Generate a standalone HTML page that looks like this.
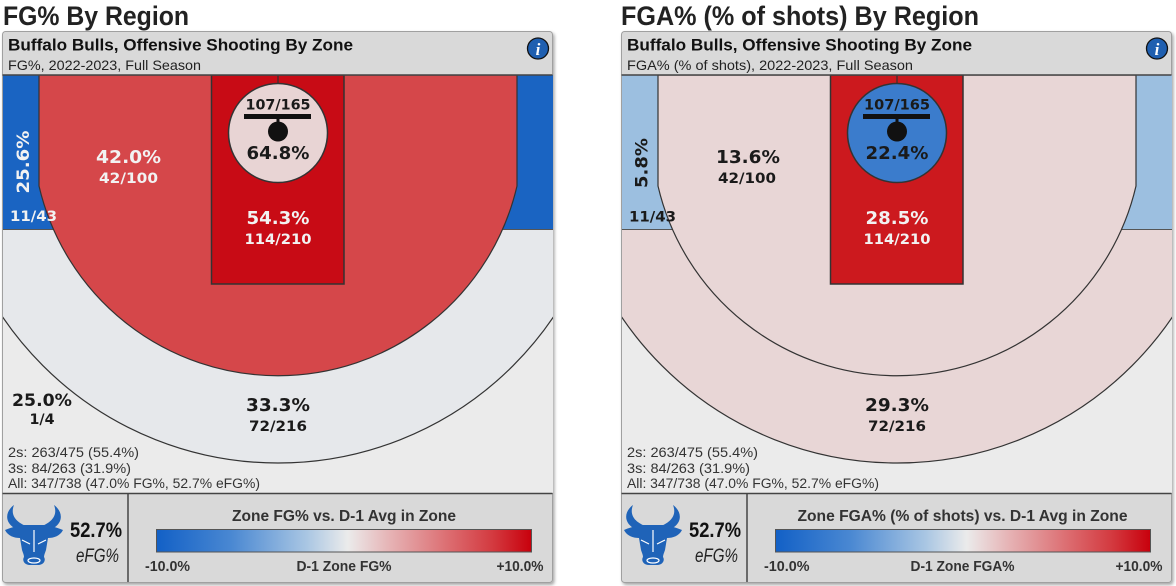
<!DOCTYPE html>
<html><head><meta charset="utf-8"><style>
html,body{margin:0;padding:0;background:#fff;}
svg{display:block;}
.ct{font-family:"DejaVu Sans",sans-serif;font-weight:bold;}
.rb{font-family:"Liberation Sans",sans-serif;}
</style></head><body>
<svg width="1176" height="586" viewBox="0 0 1176 586" xmlns="http://www.w3.org/2000/svg">
<defs>
<linearGradient id="gr" x1="0" x2="1" y1="0" y2="0">
<stop offset="0" stop-color="#1260c6"/>
<stop offset="0.2" stop-color="#4a88d2"/>
<stop offset="0.4" stop-color="#a9c6e3"/>
<stop offset="0.51" stop-color="#ebebeb"/>
<stop offset="0.62" stop-color="#e6b4b6"/>
<stop offset="0.78" stop-color="#dc6c70"/>
<stop offset="0.9" stop-color="#d3383e"/>
<stop offset="1" stop-color="#c8000c"/>
</linearGradient>
<clipPath id="court"><rect x="3" y="75" width="550" height="418"/></clipPath>
<filter id="sh" x="-5%" y="-5%" width="110%" height="110%"><feDropShadow dx="1.5" dy="2" stdDeviation="1.5" flood-color="#000" flood-opacity="0.35"/></filter>
<g id="bull">
<path d="M14 505 C3 513,5 527,22 531 L26 526 C16 522,10 515,14 505 Z" fill="#1f63b8"/>
<path d="M54 505 C65 513,63 527,46 531 L42 526 C52 522,58 515,54 505 Z" fill="#1f63b8"/>
<path d="M22 525 L46 525 C50 526,56 527,63 530 C60 536,54 538,48 538 L46 550 C45 553,44 555,44 557 C46 560,44 565,38 565 L30 565 C24 565,22 560,24 557 C24 555,23 553,22 550 L20 538 C14 538,8 536,5 530 C12 527,18 526,22 525 Z" fill="#1f63b8"/>
<path d="M22 540 L30 544 M46 540 L38 544 M34 530 L34 552" stroke="#fff" stroke-width="1.2" fill="none"/>
<ellipse cx="34" cy="560.5" rx="6" ry="2.5" fill="none" stroke="#fff" stroke-width="1.2"/>
</g>
</defs>

<!-- ================= LEFT PANEL ================= -->
<text x="3" y="25" class="rb" font-weight="bold" font-size="27" fill="#222" textLength="186" lengthAdjust="spacingAndGlyphs">FG% By Region</text>
<g>
<rect x="2.5" y="31.5" width="550" height="551" rx="3" fill="#d9d9d9" stroke="#a0a0a0" filter="url(#sh)"/>
<text x="8" y="50.5" class="rb" font-weight="bold" font-size="17" fill="#111" textLength="345" lengthAdjust="spacingAndGlyphs">Buffalo Bulls, Offensive Shooting By Zone</text>
<text x="8" y="70" class="rb" font-size="14" fill="#222" textLength="193" lengthAdjust="spacingAndGlyphs">FG%, 2022-2023, Full Season</text>
<circle cx="538" cy="48.5" r="10.5" fill="#1f5fb0" stroke="#111" stroke-width="1.3"/>
<text x="538" y="55" text-anchor="middle" font-family="Liberation Serif,serif" font-style="italic" font-weight="bold" font-size="17" fill="#fff">i</text>

<g clip-path="url(#court)">
<rect x="3" y="75" width="550" height="418" fill="#ebebeb"/>
<circle cx="278" cy="130.4" r="332.6" fill="#e6e8eb" stroke="#333" stroke-width="1.2"/>
<rect x="3" y="75" width="70" height="154" fill="#1a64c2"/>
<rect x="483" y="75" width="70" height="154" fill="#1a64c2"/>
<line x1="3" y1="229.5" x2="70" y2="229.5" stroke="#555" stroke-width="1"/>
<line x1="486" y1="229.5" x2="553" y2="229.5" stroke="#555" stroke-width="1"/>
<path d="M39 75 L39 186 A245.4 245.4 0 0 0 517 186 L517 75 Z" fill="#d5474a" stroke="#333" stroke-width="1.2"/>
<rect x="211.5" y="75" width="132.5" height="209" fill="#c80b15" stroke="#333" stroke-width="1.5"/>
<line x1="278" y1="75" x2="278" y2="84" stroke="#333" stroke-width="1.2"/>
<circle cx="278" cy="133" r="49.5" fill="#e8d4d4" stroke="#333" stroke-width="1.5"/>
<rect x="244" y="114" width="67" height="5" fill="#111"/>
<rect x="276.5" y="118" width="3" height="8" fill="#111"/>
<circle cx="278" cy="131.5" r="10" fill="#111"/>
</g>
<line x1="2.5" y1="75" x2="552.5" y2="75" stroke="#444" stroke-width="1.5"/>
<line x1="2.5" y1="493.5" x2="552.5" y2="493.5" stroke="#444" stroke-width="1.5"/>

<text class="ct" transform="translate(29,162) rotate(-90)" text-anchor="middle" font-size="17" fill="#f2f2f2" textLength="63" lengthAdjust="spacingAndGlyphs">25.6%</text>
<text class="ct" x="10" y="221" font-size="14" fill="#f2f2f2" textLength="47" lengthAdjust="spacingAndGlyphs">11/43</text>
<text class="ct" x="128.5" y="163" text-anchor="middle" font-size="18" fill="#f2f2f2" textLength="65" lengthAdjust="spacingAndGlyphs">42.0%</text>
<text class="ct" x="128.5" y="183" text-anchor="middle" font-size="14" fill="#f2f2f2" textLength="59" lengthAdjust="spacingAndGlyphs">42/100</text>
<text class="ct" x="278" y="109.3" text-anchor="middle" font-size="14" fill="#1a1a1a" textLength="65" lengthAdjust="spacingAndGlyphs">107/165</text>
<text class="ct" x="278" y="159" text-anchor="middle" font-size="18" fill="#1a1a1a" textLength="63" lengthAdjust="spacingAndGlyphs">64.8%</text>
<text class="ct" x="278" y="224" text-anchor="middle" font-size="18" fill="#f2f2f2" textLength="63" lengthAdjust="spacingAndGlyphs">54.3%</text>
<text class="ct" x="278" y="244" text-anchor="middle" font-size="14" fill="#f2f2f2" textLength="67" lengthAdjust="spacingAndGlyphs">114/210</text>
<text class="ct" x="42" y="406" text-anchor="middle" font-size="17" fill="#1a1a1a" textLength="60" lengthAdjust="spacingAndGlyphs">25.0%</text>
<text class="ct" x="42" y="424" text-anchor="middle" font-size="14" fill="#1a1a1a" textLength="25" lengthAdjust="spacingAndGlyphs">1/4</text>
<text class="ct" x="278" y="411" text-anchor="middle" font-size="18" fill="#1a1a1a" textLength="64" lengthAdjust="spacingAndGlyphs">33.3%</text>
<text class="ct" x="278" y="431" text-anchor="middle" font-size="14" fill="#1a1a1a" textLength="58" lengthAdjust="spacingAndGlyphs">72/216</text>
<text class="rb" x="8" y="457" font-size="13.5" fill="#333" textLength="131" lengthAdjust="spacingAndGlyphs">2s: 263/475 (55.4%)</text>
<text class="rb" x="8" y="473" font-size="13.5" fill="#333" textLength="123" lengthAdjust="spacingAndGlyphs">3s: 84/263 (31.9%)</text>
<text class="rb" x="8" y="488" font-size="13.5" fill="#333" textLength="252" lengthAdjust="spacingAndGlyphs">All: 347/738 (47.0% FG%, 52.7% eFG%)</text>

<line x1="128" y1="494" x2="128" y2="582" stroke="#444" stroke-width="1.5"/>
<use href="#bull"/>
<text class="rb" x="70" y="537" font-weight="bold" font-size="21" fill="#111" textLength="52" lengthAdjust="spacingAndGlyphs">52.7%</text>
<text class="rb" x="76" y="562" font-style="italic" font-size="19" fill="#222" textLength="43" lengthAdjust="spacingAndGlyphs">eFG%</text>
<text class="rb" x="344" y="521" text-anchor="middle" font-weight="bold" font-size="16" fill="#333" textLength="224" lengthAdjust="spacingAndGlyphs">Zone FG% vs. D-1 Avg in Zone</text>
<rect x="156.5" y="529.5" width="375" height="22.5" fill="url(#gr)" stroke="#555" stroke-width="1"/>
<text class="rb" x="145" y="571" font-weight="bold" font-size="14.5" fill="#333" textLength="45" lengthAdjust="spacingAndGlyphs">-10.0%</text>
<text class="rb" x="344" y="571" text-anchor="middle" font-weight="bold" font-size="14.5" fill="#333" textLength="95" lengthAdjust="spacingAndGlyphs">D-1 Zone FG%</text>
<text class="rb" x="543.5" y="571" text-anchor="end" font-weight="bold" font-size="14.5" fill="#333" textLength="47" lengthAdjust="spacingAndGlyphs">+10.0%</text>
</g>

<!-- ================= RIGHT PANEL ================= -->
<text x="621" y="25" class="rb" font-weight="bold" font-size="27" fill="#222" textLength="358" lengthAdjust="spacingAndGlyphs">FGA% (% of shots) By Region</text>
<g transform="translate(619,0)">
<rect x="2.5" y="31.5" width="550" height="551" rx="3" fill="#d9d9d9" stroke="#a0a0a0" filter="url(#sh)"/>
<text x="8" y="50.5" class="rb" font-weight="bold" font-size="17" fill="#111" textLength="345" lengthAdjust="spacingAndGlyphs">Buffalo Bulls, Offensive Shooting By Zone</text>
<text x="8" y="70" class="rb" font-size="14" fill="#222" textLength="286" lengthAdjust="spacingAndGlyphs">FGA% (% of shots), 2022-2023, Full Season</text>
<circle cx="538" cy="48.5" r="10.5" fill="#1f5fb0" stroke="#111" stroke-width="1.3"/>
<text x="538" y="55" text-anchor="middle" font-family="Liberation Serif,serif" font-style="italic" font-weight="bold" font-size="17" fill="#fff">i</text>

<g clip-path="url(#court)">
<rect x="3" y="75" width="550" height="418" fill="#ebebeb"/>
<circle cx="278" cy="130.4" r="332.6" fill="#e8d6d6" stroke="#333" stroke-width="1.2"/>
<rect x="3" y="75" width="70" height="154" fill="#9cbfe0"/>
<rect x="483" y="75" width="70" height="154" fill="#9cbfe0"/>
<line x1="3" y1="229.5" x2="70" y2="229.5" stroke="#555" stroke-width="1"/>
<line x1="486" y1="229.5" x2="553" y2="229.5" stroke="#555" stroke-width="1"/>
<path d="M39 75 L39 186 A245.4 245.4 0 0 0 517 186 L517 75 Z" fill="#e8d6d6" stroke="#333" stroke-width="1.2"/>
<rect x="211.5" y="75" width="132.5" height="209" fill="#cc191e" stroke="#333" stroke-width="1.5"/>
<line x1="278" y1="75" x2="278" y2="84" stroke="#333" stroke-width="1.2"/>
<circle cx="278" cy="133" r="49.5" fill="#3b7ccc" stroke="#333" stroke-width="1.5"/>
<rect x="244" y="114" width="67" height="5" fill="#111"/>
<rect x="276.5" y="118" width="3" height="8" fill="#111"/>
<circle cx="278" cy="131.5" r="10" fill="#111"/>
</g>
<line x1="2.5" y1="75" x2="552.5" y2="75" stroke="#444" stroke-width="1.5"/>
<line x1="2.5" y1="493.5" x2="552.5" y2="493.5" stroke="#444" stroke-width="1.5"/>

<text class="ct" transform="translate(28.5,163) rotate(-90)" text-anchor="middle" font-size="17" fill="#1a1a1a" textLength="50" lengthAdjust="spacingAndGlyphs">5.8%</text>
<text class="ct" x="10" y="221.5" font-size="14" fill="#1a1a1a" textLength="47" lengthAdjust="spacingAndGlyphs">11/43</text>
<text class="ct" x="129" y="163" text-anchor="middle" font-size="18" fill="#1a1a1a" textLength="64" lengthAdjust="spacingAndGlyphs">13.6%</text>
<text class="ct" x="128" y="183" text-anchor="middle" font-size="14" fill="#1a1a1a" textLength="58" lengthAdjust="spacingAndGlyphs">42/100</text>
<text class="ct" x="278" y="109.3" text-anchor="middle" font-size="14" fill="#1a1a1a" textLength="66" lengthAdjust="spacingAndGlyphs">107/165</text>
<text class="ct" x="278" y="159" text-anchor="middle" font-size="18" fill="#1a1a1a" textLength="63" lengthAdjust="spacingAndGlyphs">22.4%</text>
<text class="ct" x="278" y="224" text-anchor="middle" font-size="18" fill="#f2f2f2" textLength="63" lengthAdjust="spacingAndGlyphs">28.5%</text>
<text class="ct" x="278" y="244" text-anchor="middle" font-size="14" fill="#f2f2f2" textLength="67" lengthAdjust="spacingAndGlyphs">114/210</text>
<text class="ct" x="278" y="411" text-anchor="middle" font-size="18" fill="#1a1a1a" textLength="64" lengthAdjust="spacingAndGlyphs">29.3%</text>
<text class="ct" x="278" y="431" text-anchor="middle" font-size="14" fill="#1a1a1a" textLength="58" lengthAdjust="spacingAndGlyphs">72/216</text>
<text class="rb" x="8" y="457" font-size="13.5" fill="#333" textLength="131" lengthAdjust="spacingAndGlyphs">2s: 263/475 (55.4%)</text>
<text class="rb" x="8" y="473" font-size="13.5" fill="#333" textLength="123" lengthAdjust="spacingAndGlyphs">3s: 84/263 (31.9%)</text>
<text class="rb" x="8" y="488" font-size="13.5" fill="#333" textLength="252" lengthAdjust="spacingAndGlyphs">All: 347/738 (47.0% FG%, 52.7% eFG%)</text>

<line x1="128" y1="494" x2="128" y2="582" stroke="#444" stroke-width="1.5"/>
<use href="#bull"/>
<text class="rb" x="70" y="537" font-weight="bold" font-size="21" fill="#111" textLength="52" lengthAdjust="spacingAndGlyphs">52.7%</text>
<text class="rb" x="76" y="562" font-style="italic" font-size="19" fill="#222" textLength="43" lengthAdjust="spacingAndGlyphs">eFG%</text>
<text class="rb" x="343.5" y="521" text-anchor="middle" font-weight="bold" font-size="16" fill="#333" textLength="330" lengthAdjust="spacingAndGlyphs">Zone FGA% (% of shots) vs. D-1 Avg in Zone</text>
<rect x="156.5" y="529.5" width="375" height="22.5" fill="url(#gr)" stroke="#555" stroke-width="1"/>
<text class="rb" x="145" y="571" font-weight="bold" font-size="14.5" fill="#333" textLength="45.5" lengthAdjust="spacingAndGlyphs">-10.0%</text>
<text class="rb" x="343.5" y="571" text-anchor="middle" font-weight="bold" font-size="14.5" fill="#333" textLength="104" lengthAdjust="spacingAndGlyphs">D-1 Zone FGA%</text>
<text class="rb" x="543.5" y="571" text-anchor="end" font-weight="bold" font-size="14.5" fill="#333" textLength="47" lengthAdjust="spacingAndGlyphs">+10.0%</text>
</g>
</svg>
</body></html>
